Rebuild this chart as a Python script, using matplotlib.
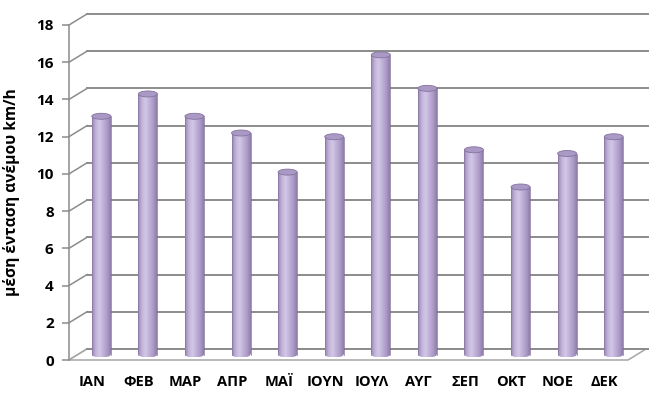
import matplotlib
matplotlib.use("Agg")
import matplotlib.pyplot as plt
import numpy as np
from matplotlib.patches import Ellipse, Rectangle, Polygon
from matplotlib.colors import LinearSegmentedColormap

# monthly mean wind speed (km/h)
months = ["ΙΑΝ", "ΦΕΒ", "ΜΑΡ", "ΑΠΡ", "ΜΑΪ", "ΙΟΥΝ", "ΙΟΥΛ", "ΑΥΓ", "ΣΕΠ", "ΟΚΤ", "ΝΟΕ", "ΔΕΚ"]
wind = [12.8, 14.0, 12.8, 11.9, 9.8, 11.7, 16.1, 14.3, 11.0, 9.0, 10.8, 11.7]
yticks = list(range(0, 20, 2))

plt.rcParams['font.family'] = ['Open Sans', 'DejaVu Sans']

W, H = 660, 399
fig = plt.figure(figsize=(W / 100, H / 100), dpi=100)
# front plane of the box in pixels
x0, x1 = 69, 628
y_top, y_bot = 25, 360
ax = fig.add_axes([x0 / W, (H - y_bot) / H, (x1 - x0) / W, (y_bot - y_top) / H])
n = len(months)
ax.set_xlim(-0.5, n - 0.5)
ax.set_ylim(0, 18)
for s in ax.spines.values():
    s.set_visible(False)

# depth offset (pixels -> data)
px_x = (x1 - x0) / n
px_y = (y_bot - y_top) / 18
ddx = 18 / px_x
ddy = 11 / px_y

grid_c = "#8c8c8c"
xa, xb = -0.5, n - 0.5
for v in yticks:
    ax.plot([xa, xa + ddx], [v, v + ddy], color=grid_c, lw=1.1, clip_on=False, zorder=1)
    ax.plot([xa + ddx, xb + ddx + 0.05], [v + ddy, v + ddy], color=grid_c, lw=1.4,
            clip_on=False, zorder=1)
# floor
floor = Polygon([[xa, 0], [xb, 0], [xb + ddx, ddy], [xa + ddx, ddy]], closed=True,
                facecolor="white", edgecolor="#a6a6a6", lw=1.1, clip_on=False, zorder=1.5)
ax.add_patch(floor)
ax.plot([xa + ddx, xb + ddx + 0.05], [ddy, ddy], color=grid_c, lw=1.4, clip_on=False, zorder=1.6)
ax.plot([xa, xa], [0, 18], color=grid_c, lw=1.1, clip_on=False, zorder=2)

# cylinders
cmap = LinearSegmentedColormap.from_list("cyl", ["#9886b3", "#c2b4da", "#d3c8e6",
                                                  "#bfb0d8", "#ad9cc8", "#8e7cab"])
grad = np.linspace(0, 1, 64).reshape(1, -1)
bw = 19 / px_x
eh = 6 / px_y
xs = np.arange(n)
for xi, val in zip(xs, wind):
    cx = xi + ddx / 2
    base = ddy / 2
    top = val + ddy / 2
    body = Rectangle((cx - bw / 2, base), bw, top - base, facecolor="none",
                     edgecolor="none", zorder=3)
    ax.add_patch(body)
    im = ax.imshow(grad, cmap=cmap, aspect="auto", extent=[cx - bw / 2, cx + bw / 2, base, top],
                   zorder=3, interpolation="bicubic")
    im.set_clip_path(body)
    bot = Ellipse((cx, base), bw, eh, facecolor="none", edgecolor="none", zorder=3)
    ax.add_patch(bot)
    im2 = ax.imshow(grad, cmap=cmap, aspect="auto",
                    extent=[cx - bw / 2, cx + bw / 2, base - eh / 2, base + eh / 2],
                    zorder=3, interpolation="bicubic")
    im2.set_clip_path(bot)
    ax.plot([cx - bw / 2, cx - bw / 2], [base, top], color="#8a78a4", lw=0.5, zorder=3.5)
    ax.plot([cx + bw / 2, cx + bw / 2], [base, top], color="#7d6c98", lw=0.5, zorder=3.5)
    cap = Ellipse((cx, top), bw, eh, facecolor="#a999c4", edgecolor="#85739f", lw=0.6, zorder=4)
    ax.add_patch(cap)

ax.set_xticks(xs)
ax.set_xticklabels(months, fontsize=10.5, fontweight="bold")
ax.tick_params(axis="x", length=0, pad=11)
ax.set_yticks(yticks)
ax.set_yticklabels([str(v) for v in yticks], fontsize=11, fontweight="bold")
ax.tick_params(axis="y", length=5, color=grid_c, width=1.1, pad=6)
ax.set_ylabel("μέση ένταση ανέμου km/h", fontsize=11.2, fontweight="bold")
ax.yaxis.set_label_coords(-0.088, 0.5)

fig.savefig("out.png", dpi=100)
